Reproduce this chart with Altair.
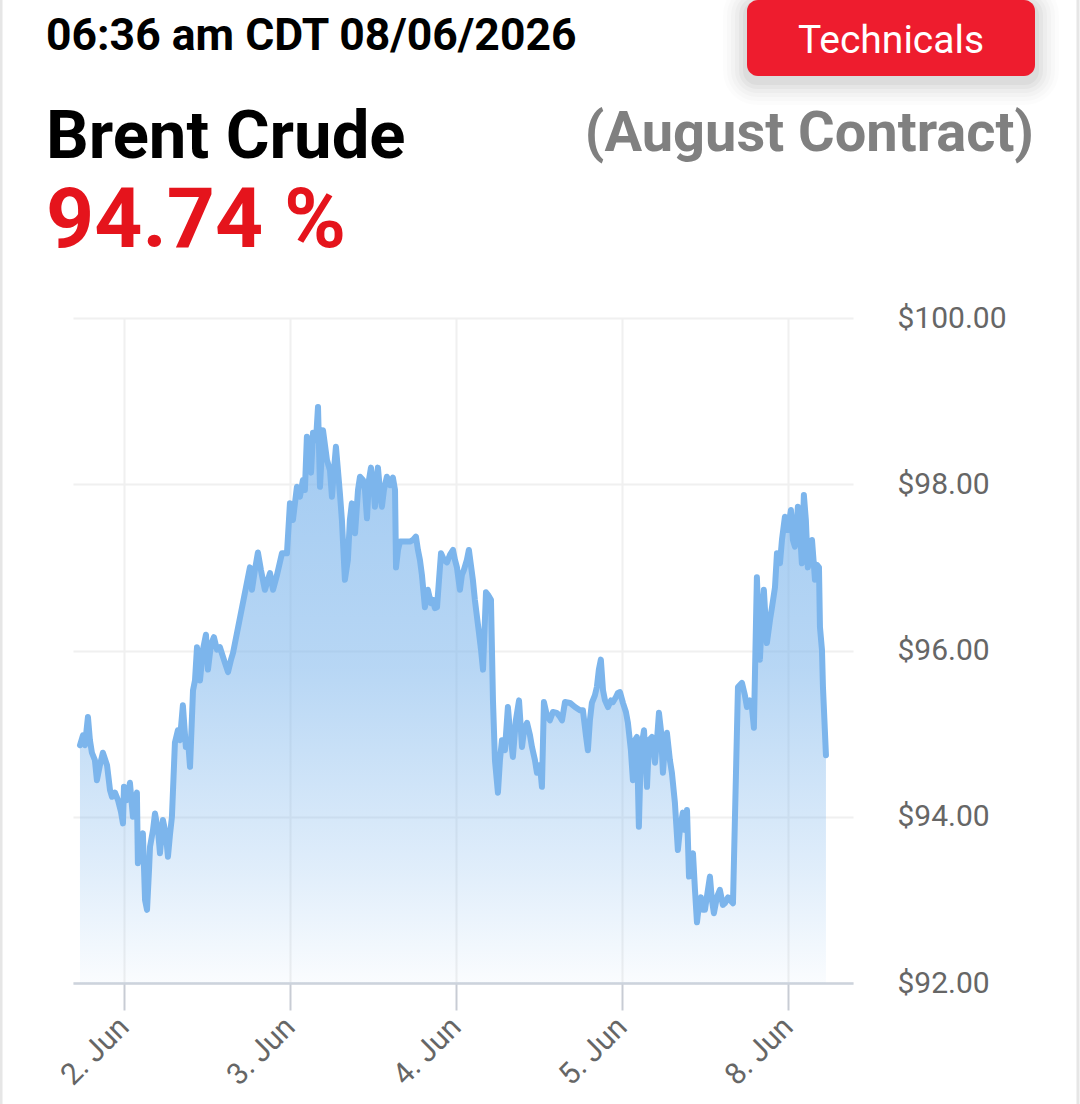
import altair as alt
import pandas as pd

# ---- data (trading-day index: 0 = 2 Jun, 1 = 3 Jun, 2 = 4 Jun, 3 = 5 Jun, 4 = 8 Jun) ----
day = [
    -0.265, -0.247, -0.235, -0.217, -0.205, -0.193, -0.175, -0.163, -0.145, -0.127,
    -0.102, -0.084, -0.072, -0.054, -0.036, -0.018, -0.006, 0.000, 0.018, 0.036,
    0.054, 0.066, 0.078, 0.084, 0.102, 0.114, 0.127, 0.139, 0.151, 0.157,
    0.175, 0.187, 0.205, 0.217, 0.235, 0.253, 0.265, 0.277, 0.289, 0.307,
    0.325, 0.337, 0.355, 0.373, 0.386, 0.398, 0.416, 0.428, 0.440, 0.458,
    0.476, 0.494, 0.506, 0.524, 0.542, 0.560, 0.578, 0.602, 0.627, 0.645,
    0.657, 0.759, 0.771, 0.789, 0.807, 0.825, 0.849, 0.867, 0.880, 0.898,
    0.922, 0.952, 0.982, 1.000, 1.018, 1.042, 1.060, 1.078, 1.090, 1.102,
    1.114, 1.127, 1.139, 1.157, 1.169, 1.181, 1.199, 1.211, 1.223, 1.241,
    1.253, 1.265, 1.277, 1.289, 1.301, 1.313, 1.331, 1.349, 1.361, 1.373,
    1.392, 1.410, 1.422, 1.440, 1.452, 1.464, 1.476, 1.488, 1.500, 1.512,
    1.524, 1.530, 1.542, 1.554, 1.566, 1.584, 1.602, 1.620, 1.633, 1.639,
    1.651, 1.663, 1.693, 1.723, 1.741, 1.759, 1.771, 1.783, 1.795, 1.813,
    1.831, 1.849, 1.861, 1.873, 1.886, 1.898, 1.910, 1.928, 1.946, 1.964,
    1.982, 1.994, 2.006, 2.024, 2.036, 2.048, 2.066, 2.078, 2.090, 2.102,
    2.114, 2.127, 2.139, 2.151, 2.163, 2.181, 2.193, 2.211, 2.223, 2.235,
    2.253, 2.265, 2.277, 2.295, 2.313, 2.325, 2.343, 2.361, 2.380, 2.398,
    2.410, 2.428, 2.446, 2.458, 2.476, 2.488, 2.506, 2.518, 2.530, 2.548,
    2.566, 2.584, 2.608, 2.627, 2.639, 2.657, 2.687, 2.717, 2.747, 2.765,
    2.783, 2.795, 2.807, 2.819, 2.837, 2.849, 2.861, 2.873, 2.886, 2.898,
    2.916, 2.934, 2.946, 2.964, 2.976, 2.988, 3.006, 3.024, 3.036, 3.054,
    3.066, 3.078, 3.090, 3.102, 3.114, 3.133, 3.151, 3.163, 3.181, 3.199,
    3.211, 3.223, 3.235, 3.247, 3.259, 3.271, 3.289, 3.301, 3.319, 3.337,
    3.349, 3.367, 3.380, 3.392, 3.404, 3.416, 3.428, 3.440, 3.452, 3.464,
    3.476, 3.488, 3.500, 3.518, 3.530, 3.542, 3.554, 3.572, 3.590, 3.608,
    3.620, 3.639, 3.651, 3.669, 3.699, 3.723, 3.741, 3.753, 3.771, 3.783,
    3.795, 3.813, 3.831, 3.843, 3.855, 3.873, 3.892, 3.904, 3.922, 3.934,
    3.952, 3.964, 3.982, 4.000, 4.018, 4.030, 4.042, 4.060, 4.072, 4.084,
    4.096, 4.108, 4.120, 4.133, 4.145, 4.163, 4.175, 4.187, 4.193, 4.205,
    4.211, 4.229,
]
price = [
    94.86, 94.98, 94.86, 95.20, 94.92, 94.77, 94.68, 94.44, 94.62, 94.77,
    94.62, 94.32, 94.24, 94.29, 94.20, 94.06, 93.92, 94.36, 94.20, 94.41,
    94.00, 94.20, 94.29, 93.44, 93.72, 93.80, 93.00, 92.88, 93.36, 93.64,
    93.84, 94.04, 93.84, 93.56, 93.96, 93.78, 93.52, 93.78, 94.00, 94.89,
    95.04, 94.92, 95.34, 94.84, 94.92, 94.60, 95.52, 95.64, 96.04, 95.64,
    96.01, 96.19, 95.77, 96.07, 96.16, 96.01, 96.04, 95.89, 95.74, 95.89,
    95.97, 97.00, 96.73, 96.97, 97.18, 96.97, 96.73, 96.85, 96.93, 96.73,
    96.91, 97.17, 97.17, 97.77, 97.57, 97.97, 97.85, 98.05, 97.93, 98.57,
    98.29, 98.14, 98.62, 98.53, 98.93, 97.97, 98.65, 98.47, 98.29, 98.17,
    97.85, 98.17, 98.45, 98.17, 97.89, 97.57, 96.85, 97.09, 97.57, 97.77,
    97.41, 97.93, 98.09, 98.05, 97.93, 97.59, 98.05, 98.20, 98.05, 97.73,
    97.99, 98.20, 97.93, 97.73, 97.93, 98.09, 97.99, 98.08, 97.93, 97.00,
    97.21, 97.31, 97.31, 97.31, 97.33, 97.37, 97.21, 97.09, 96.91, 96.52,
    96.73, 96.57, 96.61, 96.51, 96.52, 96.85, 97.17, 97.09, 97.06, 97.15,
    97.21, 97.09, 97.00, 96.73, 96.91, 96.97, 97.09, 97.21, 97.03, 96.85,
    96.61, 96.40, 96.21, 96.01, 95.77, 96.70, 96.67, 96.61, 95.40, 94.68,
    94.29, 94.68, 94.92, 94.80, 95.32, 95.04, 94.72, 95.16, 95.40, 94.84,
    95.04, 95.13, 94.98, 94.84, 94.68, 94.53, 94.62, 94.36, 95.38, 95.22,
    95.16, 95.26, 95.25, 95.20, 95.16, 95.38, 95.37, 95.32, 95.28, 95.28,
    94.98, 94.80, 95.16, 95.37, 95.46, 95.56, 95.77, 95.89, 95.52, 95.40,
    95.32, 95.40, 95.38, 95.44, 95.49, 95.50, 95.37, 95.26, 95.13, 94.80,
    94.44, 94.92, 94.96, 93.88, 94.80, 95.04, 94.36, 94.92, 94.96, 94.65,
    94.92, 95.25, 95.04, 94.53, 94.86, 95.01, 94.68, 94.53, 94.17, 93.60,
    93.84, 94.05, 93.84, 94.08, 93.28, 93.48, 93.56, 93.12, 92.73, 92.94,
    93.03, 92.88, 92.88, 93.12, 93.28, 93.00, 92.84, 93.03, 93.12, 92.94,
    92.96, 93.03, 93.00, 92.96, 95.56, 95.61, 95.46, 95.32, 95.40, 95.32,
    95.07, 96.88, 95.89, 96.37, 96.73, 96.09, 96.37, 96.52, 96.76, 97.17,
    97.05, 97.33, 97.61, 97.45, 97.69, 97.33, 97.25, 97.73, 97.45, 97.05,
    97.87, 97.57, 97.00, 97.15, 97.33, 96.85, 97.03, 97.00, 96.28, 96.01,
    95.56, 94.74,
]

tick_days = [0, 1, 2, 3, 4]
tick_labels = ["2. Jun", "3. Jun", "4. Jun", "5. Jun", "8. Jun"]
price_ticks = [92, 94, 96, 98, 100]

timestamp_text = "06:36 am CDT 08/06/2026"
button_text = "Technicals"
name_text = "Brent Crude"
contract_text = "(August Contract)"
last_text = "94.74 %"

df = pd.DataFrame({"day": day, "price": price})
one = pd.DataFrame({"k": [0]})

FONT = "Roboto"
W, H = 780, 665
LEFT, TOP = 73, 318

label_expr = "[" + ",".join("'" + s + "'" for s in tick_labels) + "][datum.value]"

x_enc = alt.X(
    "day:Q",
    scale=alt.Scale(domain=[-0.307, 4.392], nice=False, zero=False),
    axis=alt.Axis(
        values=tick_days, labelExpr=label_expr, title=None,
        labelAngle=315, labelAlign="right", labelBaseline="middle",
        labelFontSize=30, labelColor="#666666", labelFont=FONT, labelPadding=12,
        tickSize=27, tickColor="#c8ccd4", tickWidth=2,
        domainColor="#cdd3dc", domainWidth=2.5,
        grid=True, gridColor="#f0f0f0", gridWidth=2,
    ),
)
y_enc = alt.Y(
    "price:Q",
    scale=alt.Scale(domain=[92, 100], nice=False, zero=False),
    axis=alt.Axis(
        orient="right", values=price_ticks, title=None,
        labelExpr="'$' + format(datum.value, '.2f')",
        labelFontSize=30, labelColor="#666666", labelFont=FONT,
        labelPadding=44, ticks=False, domain=False,
        grid=True, gridColor="#f0f0f0", gridWidth=2,
    ),
)

grad = alt.Gradient(
    gradient="linear", x1=1, x2=1, y1=0, y2=1,
    stops=[
        alt.GradientStop(color="rgba(124,181,236,0.72)", offset=0),
        alt.GradientStop(color="rgba(124,181,236,0.55)", offset=0.45),
        alt.GradientStop(color="rgba(124,181,236,0.24)", offset=0.8),
        alt.GradientStop(color="rgba(124,181,236,0.04)", offset=1),
    ],
)

area = alt.Chart(df).mark_area(color=grad, interpolate="linear").encode(
    x=x_enc, y=y_enc, y2=alt.datum(92)
)
line = alt.Chart(df).mark_line(color="#7cb5ec", strokeWidth=6, strokeJoin="round", strokeCap="round").encode(
    x="day:Q", y="price:Q"
)

# button shadow + button
shadows = []
for i, op in enumerate([0.035, 0.03, 0.025, 0.02, 0.015, 0.01]):
    g = 4 * (i + 1)
    shadows.append(
        alt.Chart(one).mark_rect(color="#000000", opacity=op, cornerRadius=10 + g).encode(
            x=alt.value(747 - LEFT - g), x2=alt.value(1035 - LEFT + g),
            y=alt.value(0 - TOP - g + 5), y2=alt.value(76 - TOP + g + 5),
        )
    )
button = alt.Chart(one).mark_rect(color="#ee1c2e", cornerRadius=11).encode(
    x=alt.value(747 - LEFT), x2=alt.value(1035 - LEFT),
    y=alt.value(0 - TOP), y2=alt.value(76 - TOP),
)

def txt(text, x, y, size, color, weight="bold", align="left"):
    return alt.Chart(one).mark_text(
        font=FONT, fontSize=size, fontWeight=weight, color=color,
        align=align, baseline="alphabetic",
    ).encode(x=alt.value(x - LEFT), y=alt.value(y - TOP), text=alt.value(text))

t1 = txt(timestamp_text, 46, 50, 44.5, "#000000")
t2 = txt(button_text, 891, 53, 39, "#ffffff", weight="normal", align="center")
t3 = txt(name_text, 46, 158, 67, "#000000")
t4 = txt(contract_text, 1034, 151, 56, "#808080", align="right")
t5 = txt(last_text, 46, 247, 84, "#e5141c")

border_l = alt.Chart(one).mark_rule(color="#e6e6e6", strokeWidth=3).encode(
    x=alt.value(1 - LEFT), y=alt.value(-TOP), y2=alt.value(1104 - TOP)
)
border_r = alt.Chart(one).mark_rule(color="#e6e6e6", strokeWidth=3).encode(
    x=alt.value(1078 - LEFT), y=alt.value(-TOP), y2=alt.value(1104 - TOP)
)

chart = alt.layer(
    area, line, *shadows, button, t1, t2, t3, t4, t5, border_l, border_r
).properties(
    width=W, height=H,
    autosize=alt.AutoSizeParams(type="none"),
    padding={"left": LEFT, "top": TOP, "right": 1080 - LEFT - W, "bottom": 1104 - TOP - H},
    background="#ffffff",
).configure_view(stroke=None)

chart.save("out.html", embed_options={"renderer": "svg", "actions": False})
